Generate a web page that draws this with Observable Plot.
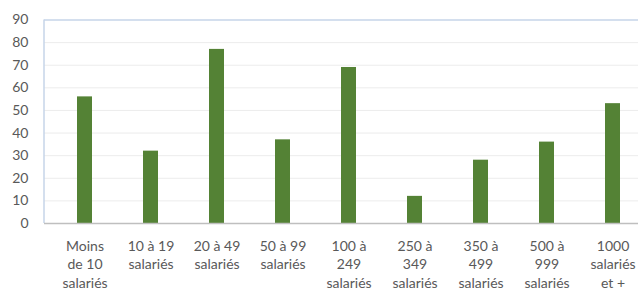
<!DOCTYPE html>
<html>
<head>
<meta charset="utf-8">
<script src="https://cdn.jsdelivr.net/npm/d3@7"></script>
<script src="https://cdn.jsdelivr.net/npm/@observablehq/plot@0.6"></script>
<style>
  html, body { margin: 0; padding: 0; background: #fff; }
  #chart svg { display: block; }
</style>
</head>
<body>
<div id="chart"></div>
<script>
const categories = [
  "Moins\nde 10\nsalariés",
  "10 à 19\nsalariés",
  "20 à 49\nsalariés",
  "50 à 99\nsalariés",
  "100 à\n249\nsalariés",
  "250 à\n349\nsalariés",
  "350 à\n499\nsalariés",
  "500 à\n999\nsalariés",
  "1000\nsalariés\net +"
];
const values = [56, 32, 77, 37, 69, 12, 28, 36, 53];
const yTicks = [0, 10, 20, 30, 40, 50, 60, 70, 80, 90];

const data = categories.map((c, i) => ({cat: c, value: values[i]}));

// left border of the plot area, drawn from the chart's own dimensions
function leftBorder(index, scales, values, dimensions) {
  const {marginLeft, marginTop, height, marginBottom} = dimensions;
  const line = document.createElementNS("http://www.w3.org/2000/svg", "line");
  line.setAttribute("x1", marginLeft);
  line.setAttribute("x2", marginLeft);
  line.setAttribute("y1", marginTop);
  line.setAttribute("y2", height - marginBottom);
  line.setAttribute("stroke", "#c6d5e9");
  line.setAttribute("stroke-width", 1.5);
  return line;
}

const chart = Plot.plot({
  width: 638,
  height: 291,
  marginTop: 19.5,
  marginBottom: 68,
  marginLeft: 44,
  marginRight: 0,
  style: {fontFamily: "Lato, 'DejaVu Sans', sans-serif", fontSize: "14px", color: "#595959", background: "#fff"},
  x: {domain: categories, range: [50, 647], paddingInner: 0.767, paddingOuter: 0.3835, align: 0.5},
  y: {domain: [0, 90], range: [223, 19.5]},
  marks: [
    Plot.ruleY(yTicks.filter(d => d > 0 && d < 90), {stroke: "#ececec", strokeWidth: 1}),
    Plot.ruleY([90], {stroke: "#c6d5e9", strokeWidth: 1.5}),
    leftBorder,
    Plot.barY(data, {x: "cat", y: "value", fill: "#548235"}),
    Plot.ruleY([0], {stroke: "#bfbfbf", strokeWidth: 1.5}),
    Plot.axisY({ticks: yTicks, tickSize: 0, tickPadding: 16, fontSize: 14, fill: "#595959", label: null}),
    Plot.axisX({tickSize: 0, tickPadding: 14, fontSize: 14, fill: "#595959", lineHeight: 1.32, label: null})
  ]
});
document.getElementById("chart").appendChild(chart);
</script>
</body>
</html>
